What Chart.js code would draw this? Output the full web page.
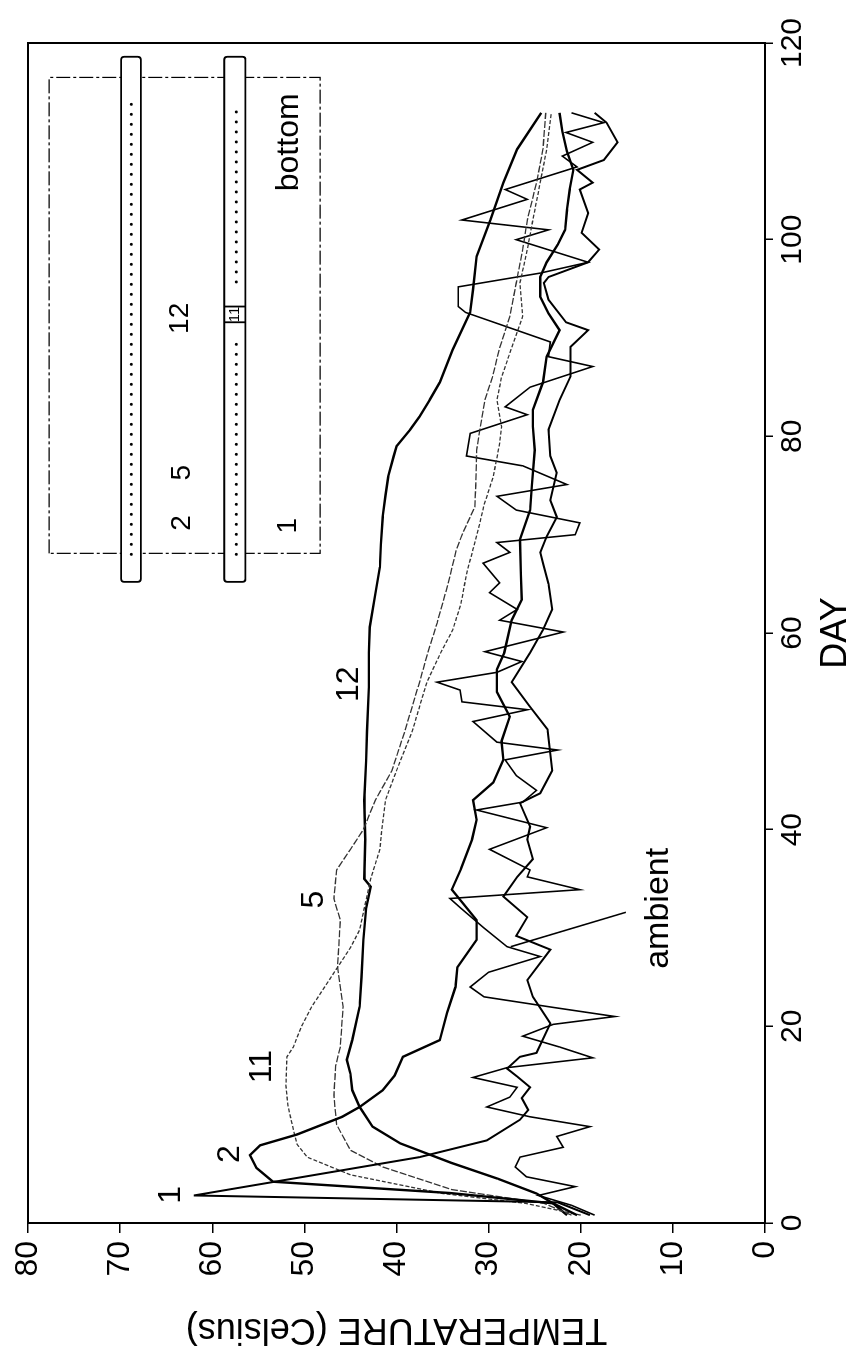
<!DOCTYPE html>
<html>
<head>
<meta charset="utf-8">
<script src="https://cdn.jsdelivr.net/npm/chart.js@4.4.1/dist/chart.umd.min.js"></script>
<style>
  html, body { margin: 0; padding: 0; background: #fff; }
  body { width: 851px; height: 1363px; overflow: hidden; position: relative; }
  /* the figure is drawn upright and then turned a quarter turn counter-clockwise */
  #wrap { position: absolute; left: 0; top: 0; width: 1363px; height: 851px;
          transform-origin: 0 0; transform: translate(0, 1363px) rotate(-90deg); }
</style>
</head>
<body>
<div id="wrap"><canvas id="myChart" width="1363" height="851"></canvas></div>
<script>
const dayTicks = [0, 20, 40, 60, 80, 100, 120];
const tempTicks = [0, 10, 20, 30, 40, 50, 60, 70, 80];
const seriesNames = ['1', '2', '5', '11', '12', 'ambient'];

// [day, temperature]
const curve1 = [[0.8,19],[2.1,22.5],[2.8,62],[6.7,37.5],[8.4,30.2],[10.5,26.6],[11.5,25.7],[12.7,26.4],[13.8,25.5],[14.9,26.9],[15.7,28],[16.9,26.6],[17.3,24.8],[20.3,23.3],[23,25.2],[24.7,25.8],[27.8,23.3],[29.2,27],[31.1,25.8],[33.2,28.4],[35.2,26.9],[37,25.2],[39,25.8],[40.3,25.5],[42.7,26.6],[43.7,24.4],[46,23.1],[50.2,23.6],[52.5,25.5],[55,27.5],[58,25.5],[60.3,24.1],[62.4,23.1],[65,23.5],[67.1,24.1],[68.2,24.4],[69.8,23.7],[71.8,22.6],[73.5,23.3],[76.3,22.6],[78,23.3],[80.7,23.5],[83.7,22.3],[86.1,21.1],[89.1,21.1],[90.8,19.2],[91.6,21.6],[93.9,23.5],[95.6,24],[96.2,23.5],[97.7,19.2],[99,18],[100.7,19.9],[102.7,19.2],[105.1,20.1],[105.8,18.7],[107.1,20.4],[108.1,17.5],[109.9,16],[111.9,17.2],[112.9,18.5]];
const curve2 = [[0.8,20.4],[2,23],[3.05,34.2],[4.2,53.4],[5.6,55.2],[6.9,55.9],[7.9,54.8],[9,50.8],[10.8,45.9],[11.8,44],[13.5,41.5],[15,40.2],[16.9,39.3],[18.6,35.3],[21.4,34.5],[24,33.6],[26,33.4],[28.8,31.3],[30.8,31.3],[33.9,34],[36,33],[39,31.8],[41,31.3],[43,31.7],[44.8,29.5],[47.1,28.4],[49,28.6],[51.5,27.7],[54,29.1],[56.3,29.1],[58,28.3],[61.3,27.5],[63.4,26.4],[66,26.5],[69.5,26.6],[72.5,25.5],[75,25.3],[78.6,25],[81,25.2],[82.7,25.2],[85.5,24.1],[88.1,23.7],[90.8,22.3],[92.5,23.5],[94.2,24.4],[96.2,24.4],[97.7,23.7],[99.5,22.5],[101,21.7],[103,21.5],[105.1,21.2],[107.1,20.8],[109,21.5],[111,22],[112.9,22.3]];
const curve5 = [[0.8,21],[2,24],[3.4,34],[5.7,41.5],[7.4,45],[10,46.5],[13,46.8],[16,46.6],[17.9,46.1],[22,45.8],[26,46.4],[30.8,46.1],[33,46.8],[35.9,46.5],[38,45],[40,43.6],[43,42.3],[46,40.5],[50,39.1],[55,37.5],[58,36.6],[61,35.6],[65,34.4],[68.5,33.5],[70.2,32.8],[72.8,31.5],[75,31.4],[78.6,31.3],[81,30.9],[83.7,30.4],[86,29.6],[89,28.8],[92.2,27.7],[95.6,27],[99,26.3],[102,25.8],[105.8,24.8],[109.2,24.1],[112.9,23.8]];
const curve11 = [[0.8,20],[2,26],[3,35],[4.9,45],[6.7,49.7],[8,50.8],[9.5,51.2],[12,51.8],[14,52],[16.9,51.9],[17.9,51.2],[20,50.3],[22,49.2],[24,47.8],[26,46.4],[28,45],[29.8,44],[32,43.5],[35,42.8],[38,41.8],[40,41.6],[43,41.2],[46,40],[50,38.3],[55,36.7],[58,35.2],[60.3,33.9],[63,33],[66,32.4],[68.5,31.7],[71,31],[73,30.5],[75.9,29.5],[79.3,28.8],[81,28.6],[83.7,29.1],[86,28.6],[89,27.5],[92.2,26.3],[95.6,26.6],[99,25.8],[102,25.2],[105.8,24.4],[109.2,23.7],[112.9,23.2]];
const curve12 = [[0.8,21.5],[2,23],[3,24.8],[4.5,29],[6.1,34],[8.1,39.6],[9.8,42.6],[11.8,44],[13.5,44.8],[15.2,45],[16.6,45.4],[18.6,44.8],[22,44],[25,43.8],[28.8,43.6],[32,43.3],[34.2,42.8],[35,43.5],[39,43.4],[43,43.5],[47,43.3],[50,43.2],[54.5,43],[58,43],[60.6,42.9],[64,42.3],[66.7,41.8],[69,41.7],[71.8,41.5],[74,41.2],[75.9,40.9],[78,40.3],[79,40],[80.7,38.5],[82,37.5],[83.7,36.4],[85.5,35.3],[88.8,33.9],[92.6,32],[94.9,31.7],[98.3,31.3],[102,29.8],[105.8,28.4],[109.2,26.9],[112.9,24.3]];
const ambient = [[0.8,18.5],[1.8,21],[2.8,24.6],[3.7,20.6],[4.7,25.9],[5.7,27.1],[6.7,26.6],[7.7,21.9],[8.8,22.6],[9.8,19],[10.8,25.5],[11.8,30.2],[12.8,27.7],[13.8,26.9],[14.8,31.7],[15.8,28],[16.8,18.7],[17.9,22.3],[19,26.3],[20.2,23],[21,16.3],[21.9,22.8],[23,30.5],[24,32],[25.5,30],[27.1,24.4],[28.1,28],[30,30.5],[32,33],[33,34.2],[33.9,20.1],[35.2,25.8],[35.9,25.5],[38,29.9],[40.2,23.7],[42,31.3],[42.8,26.3],[44,24.8],[45.5,27],[47.1,28.2],[48.1,22.5],[48.9,29.1],[51,31.7],[52.2,25.8],[53,32.9],[54.2,33.1],[55,35.6],[56,29.1],[57.1,26.4],[58.1,30.4],[60.1,21.9],[61.3,28.8],[62.4,26.9],[64.1,29.9],[65.1,28.8],[67.1,30.6],[68.2,27.7],[69.2,29.1],[70,20.6],[71.2,20.1],[72.5,27],[73.9,29.1],[75.1,21.5],[77,26.3],[78,32.4],[80.3,32],[82.2,25.8],[83,28.2],[85,25.5],[87.1,18.7],[88.1,23.5],[89.6,23.3],[92.6,32.5],[93.2,33.3],[95.2,33.3],[96.6,24.4],[97.7,19.2],[100,27],[101,23.5],[102,32.9],[104.1,25.8],[105.1,28.2],[107.4,20.4],[108.5,22],[109.9,18.7],[110.9,21.6],[111.9,17.5],[112.9,21]];

const seriesData = [curve1, curve2, curve5, curve11, curve12, ambient];

const FONT = '"Liberation Sans", Arial, Helvetica, sans-serif';
Chart.defaults.font.family = FONT;
Chart.defaults.color = '#000';

const lineStyle = {
  '1':       { width: 2,   dash: [],     color: '#000' },
  '2':       { width: 2.4, dash: [],     color: '#000' },
  '5':       { width: 1.3, dash: [7, 2], color: '#333' },
  '11':      { width: 1.3, dash: [4, 2], color: '#333' },
  '12':      { width: 2.4, dash: [],     color: '#000' },
  'ambient': { width: 1.6, dash: [],     color: '#000' }
};

// labels, inset sketch and the frame, placed in data units
const overlay = {
  id: 'overlay',
  afterDatasetsDraw(chart) {
    const { ctx, chartArea: a, scales: { x, y } } = chart;
    const px = d => x.getPixelForValue(d);
    const py = t => y.getPixelForValue(t);
    ctx.save();

    ctx.strokeStyle = '#000';
    ctx.lineWidth = 2;
    ctx.strokeRect(a.left, a.top, a.right - a.left, a.bottom - a.top);

    // inset box
    ctx.lineWidth = 1.2;
    ctx.setLineDash([14, 3, 3, 3]);
    ctx.strokeRect(px(68.1), py(77.7), px(116.5) - px(68.1), py(48.3) - py(77.7));
    ctx.setLineDash([]);

    // the two tubes
    [[67.75, 69.9], [56.4, 58.7]].forEach(([lo, hi]) => {
      const x0 = px(65.2), x1 = px(118.6), y0 = py(hi), y1 = py(lo);
      ctx.beginPath();
      ctx.roundRect(x0, y0, x1 - x0, y1 - y0, 3);
      ctx.fillStyle = '#fff';
      ctx.fill();
      ctx.lineWidth = 1.8;
      ctx.stroke();
    });

    // dotted centre lines
    ctx.lineCap = 'round';
    ctx.lineWidth = 3;
    ctx.setLineDash([0, 10]);
    [[68, 113.9, 68.8], [68, 90.3, 57.4], [95.7, 113.9, 57.4]].forEach(([d0, d1, t]) => {
      ctx.beginPath();
      ctx.moveTo(px(d0), py(t));
      ctx.lineTo(px(d1), py(t));
      ctx.stroke();
    });
    ctx.setLineDash([]);
    ctx.lineCap = 'butt';

    // sensor 11 section in the second tube
    ctx.lineWidth = 1.8;
    [91.6, 93.2].forEach(d => {
      ctx.beginPath();
      ctx.moveTo(px(d), py(58.7));
      ctx.lineTo(px(d), py(56.4));
      ctx.stroke();
    });
    ctx.fillStyle = '#000';
    ctx.textAlign = 'center';
    ctx.textBaseline = 'middle';
    ctx.font = '15px ' + FONT;
    ctx.fillText('11', px(92.4), py(57.5));

    ctx.font = '28px ' + FONT;
    [['2', 71.2, 63.3], ['5', 76.3, 63.3], ['12', 92, 63.5], ['1', 70.9, 51.8]].forEach(([s, d, t]) => {
      ctx.fillText(s, px(d), py(t));
    });
    ctx.font = '32px ' + FONT;
    ctx.fillText('bottom', px(109.9), py(51.6));

    // curve labels
    ctx.font = '32px ' + FONT;
    [['1', 2.85, 64.5], ['2', 7.0, 58.1], ['11', 15.9, 54.6], ['5', 32.9, 48.9], ['12', 54.8, 45.1]].forEach(([s, d, t]) => {
      ctx.fillText(s, px(d), py(t));
    });

    // ambient label with leader
    ctx.lineWidth = 1.6;
    ctx.beginPath();
    ctx.moveTo(px(31.6), py(15.1));
    ctx.lineTo(px(28.1), py(27.6));
    ctx.stroke();
    ctx.font = '34px ' + FONT;
    ctx.textBaseline = 'alphabetic';
    ctx.fillText('ambient', px(32), py(10.5));

    ctx.restore();
  }
};

const myChart = new Chart(document.getElementById('myChart').getContext('2d'), {
  type: 'line',
  data: {
    datasets: seriesNames.map((name, i) => ({
      label: name,
      data: seriesData[i].map(p => ({ x: p[0], y: p[1] })),
      borderColor: lineStyle[name].color,
      borderWidth: lineStyle[name].width,
      borderDash: lineStyle[name].dash,
      pointRadius: 0,
      tension: 0,
      fill: false
    }))
  },
  options: {
    responsive: false,
    animation: false,
    layout: { padding: { left: 0, top: 28, right: 43, bottom: 0 } },
    plugins: { legend: { display: false }, tooltip: { enabled: false } },
    scales: {
      x: {
        type: 'linear', min: 0, max: 120,
        afterBuildTicks: s => { s.ticks = dayTicks.map(v => ({ value: v })); },
        afterFit: s => { s.height = 86; },
        ticks: { font: { size: 30 }, color: '#000', padding: 2, maxRotation: 0 },
        grid: { drawOnChartArea: false, tickLength: 8, color: '#000', lineWidth: 1.5 },
        border: { color: '#000', width: 2 },
        title: { display: true, text: 'DAY', font: { size: 36, lineHeight: 0.85 }, color: '#000', padding: 0 }
      },
      y: {
        type: 'linear', min: 0, max: 80,
        afterBuildTicks: s => { s.ticks = tempTicks.map(v => ({ value: v })); },
        afterFit: s => { s.width = 140; },
        ticks: { font: { size: 32 }, color: '#000', padding: 8 },
        grid: { drawOnChartArea: false, tickLength: 10, color: '#000', lineWidth: 1.5 },
        border: { color: '#000', width: 2 },
        title: { display: true, text: 'TEMPERATURE (Celsius)', font: { size: 36 }, color: '#000', padding: { top: 12, bottom: 0 } }
      }
    }
  },
  plugins: [overlay]
});
</script>
</body>
</html>
